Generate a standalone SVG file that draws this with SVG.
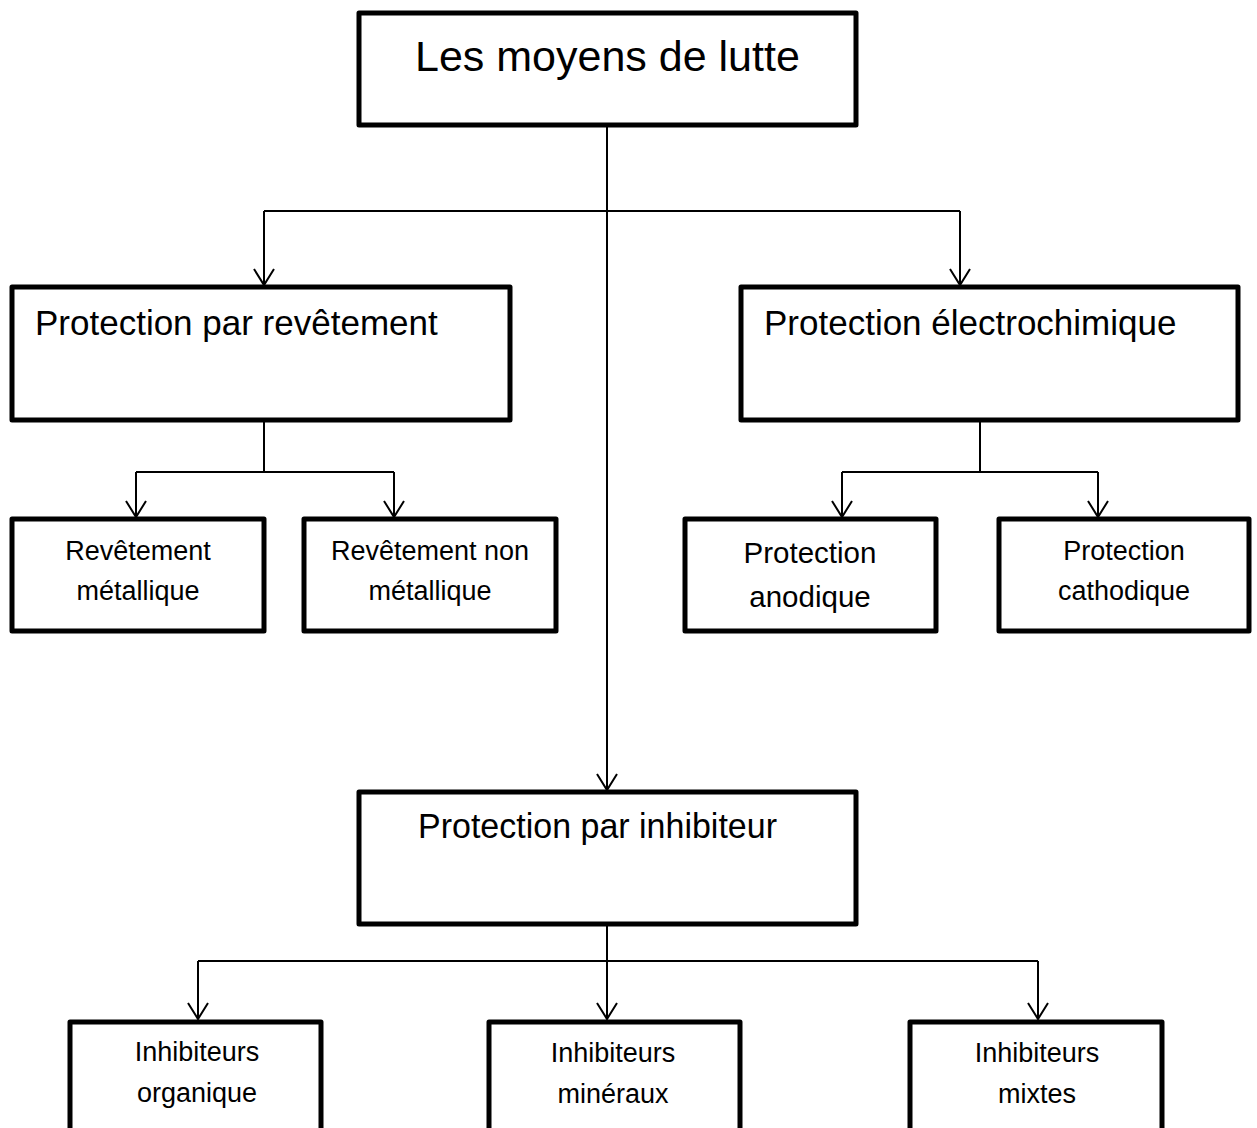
<svg xmlns="http://www.w3.org/2000/svg" width="1257" height="1128" viewBox="0 0 1257 1128">
<style>
.box{fill:#fff;stroke:#000;stroke-width:5;stroke-linejoin:round}
.con{fill:none;stroke:#000;stroke-width:2}
.t{font-family:"Liberation Sans",Arial,sans-serif;fill:#000}
.h1{font-size:43px}
.h2{font-size:35px}
.s{font-size:27px;text-anchor:middle}
.m{font-size:29.5px;text-anchor:middle}
</style>
<defs>
<marker id="arr" markerUnits="userSpaceOnUse" markerWidth="24" markerHeight="24" viewBox="-18 -12 20 24" refX="0" refY="0" orient="auto">
<path d="M-16,-10 L0,0 L-16,10" fill="none" stroke="#000" stroke-width="2"/>
</marker>
</defs>
<rect width="1257" height="1128" fill="#fff"/>
<g id="connectors">
<path class="con" d="M607,125 V790" marker-end="url(#arr)"/>
<path class="con" d="M264,211 H960"/>
<path class="con" d="M264,211 V285" marker-end="url(#arr)"/>
<path class="con" d="M960,211 V285" marker-end="url(#arr)"/>
<path class="con" d="M264,420 V472 M136,472 H394"/>
<path class="con" d="M136,472 V517" marker-end="url(#arr)"/>
<path class="con" d="M394,472 V517" marker-end="url(#arr)"/>
<path class="con" d="M980,420 V472 M842,472 H1098"/>
<path class="con" d="M842,472 V517" marker-end="url(#arr)"/>
<path class="con" d="M1098,472 V517" marker-end="url(#arr)"/>
<path class="con" d="M607,924 V1019" marker-end="url(#arr)"/>
<path class="con" d="M198,961 H1038"/>
<path class="con" d="M198,961 V1019" marker-end="url(#arr)"/>
<path class="con" d="M1038,961 V1019" marker-end="url(#arr)"/>
</g>
<g id="root">
<rect class="box" x="359" y="13" width="497" height="112"/>
<text class="t h1" x="415" y="71">Les moyens de lutte</text>
</g>
<g id="revetement">
<rect class="box" x="12" y="287" width="498" height="133"/>
<text class="t h2" x="35" y="335">Protection par revêtement</text>
</g>
<g id="electrochimique">
<rect class="box" x="741" y="287" width="497" height="133"/>
<text class="t h2" x="764" y="335">Protection électrochimique</text>
</g>
<g id="rev-metallique">
<rect class="box" x="12" y="519" width="252" height="112"/>
<text class="t s" x="138" y="560">Revêtement</text>
<text class="t s" x="138" y="600">métallique</text>
</g>
<g id="rev-non-metallique">
<rect class="box" x="304" y="519" width="252" height="112"/>
<text class="t s" x="430" y="560">Revêtement non</text>
<text class="t s" x="430" y="600">métallique</text>
</g>
<g id="anodique">
<rect class="box" x="685" y="519" width="251" height="112"/>
<text class="t m" x="810" y="563">Protection</text>
<text class="t m" x="810" y="607">anodique</text>
</g>
<g id="cathodique">
<rect class="box" x="999" y="519" width="250" height="112"/>
<text class="t s" x="1124" y="560">Protection</text>
<text class="t s" x="1124" y="600">cathodique</text>
</g>
<g id="inhibiteur">
<rect class="box" x="359" y="792" width="497" height="132"/>
<text class="t h2" x="418" y="838" textLength="359" lengthAdjust="spacingAndGlyphs">Protection par inhibiteur</text>
</g>
<g id="organique">
<rect class="box" x="70" y="1022" width="251" height="130"/>
<text class="t s" x="197" y="1061">Inhibiteurs</text>
<text class="t s" x="197" y="1102">organique</text>
</g>
<g id="mineraux">
<rect class="box" x="489" y="1022" width="251" height="130"/>
<text class="t s" x="613" y="1062">Inhibiteurs</text>
<text class="t s" x="613" y="1103">minéraux</text>
</g>
<g id="mixtes">
<rect class="box" x="910" y="1022" width="252" height="130"/>
<text class="t s" x="1037" y="1062">Inhibiteurs</text>
<text class="t s" x="1037" y="1103">mixtes</text>
</g>
</svg>
